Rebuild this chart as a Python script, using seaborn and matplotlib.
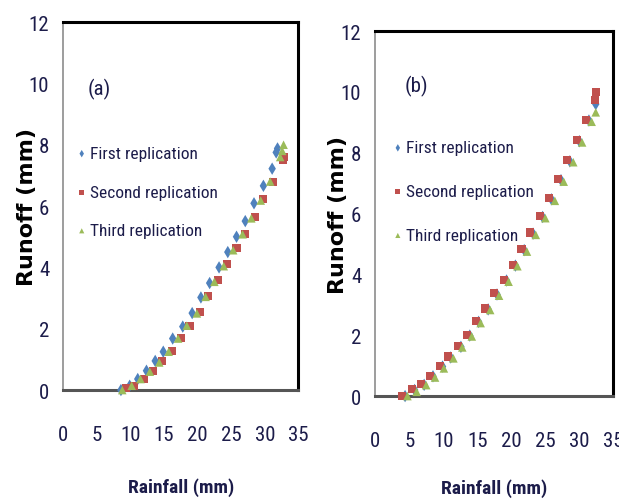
import matplotlib
matplotlib.use("Agg")
import matplotlib.pyplot as plt
import seaborn as sns

sns.set_style("white")
plt.rcParams["font.family"] = ["Roboto Condensed", "DejaVu Sans"]

# panel (a)
a_first_x = [8.6, 9.9, 11.1, 12.4, 13.7, 14.9, 16.3, 17.8, 19.2, 20.5, 21.8, 23.2,
             24.5, 25.8, 27.1, 28.4, 29.8, 31.1, 31.7, 31.9]
a_first_y = [0.0, 0.14, 0.36, 0.63, 0.95, 1.25, 1.68, 2.07, 2.51, 3.02, 3.49, 4.0,
             4.5, 5.0, 5.51, 6.09, 6.66, 7.22, 7.75, 7.88]
a_second_x = [9.4, 10.6, 12.0, 13.4, 14.7, 16.2, 17.5, 18.8, 20.3, 21.6, 23.0, 24.4,
              25.8, 27.1, 28.5, 29.8, 31.2, 32.7, 32.8]
a_second_y = [0.08, 0.14, 0.36, 0.63, 0.95, 1.26, 1.7, 2.1, 2.55, 3.07, 3.58, 4.1,
              4.62, 5.08, 5.64, 6.22, 6.79, 7.5, 7.6]
a_third_x = [8.8, 10.2, 11.5, 12.9, 14.3, 15.7, 17.1, 18.4, 19.9, 21.2, 22.5, 23.9,
             25.3, 26.7, 28.0, 29.4, 30.8, 32.3, 32.6, 32.8]
a_third_y = [0.0, 0.14, 0.36, 0.6, 0.9, 1.25, 1.68, 2.1, 2.5, 3.04, 3.53, 4.04,
             4.56, 5.08, 5.6, 6.18, 6.8, 7.6, 7.8, 8.0]

# panel (b)
b_first_x = [4.4, 5.8, 7.2, 8.5, 9.9, 11.1, 12.6, 13.9, 15.2, 16.6, 17.9, 19.3,
             20.6, 21.9, 23.2, 24.6, 25.9, 27.3, 28.6, 30.0, 31.4, 32.4]
b_first_y = [0.0, 0.2, 0.37, 0.65, 0.97, 1.27, 1.62, 1.99, 2.44, 2.85, 3.34, 3.8,
             4.29, 4.8, 5.34, 5.89, 6.47, 7.1, 7.72, 8.38, 9.06, 9.6]
b_second_x = [4.0, 5.4, 6.8, 8.1, 9.5, 10.7, 12.2, 13.5, 14.8, 16.2, 17.5, 18.9,
              20.2, 21.5, 22.8, 24.2, 25.5, 26.9, 28.2, 29.6, 31.0, 32.3, 32.4]
b_second_y = [0.0, 0.23, 0.39, 0.67, 1.0, 1.3, 1.65, 2.02, 2.48, 2.88, 3.38, 3.83,
              4.32, 4.84, 5.38, 5.93, 6.51, 7.14, 7.77, 8.42, 9.08, 9.74, 9.99]
b_third_x = [4.75, 6.1, 7.5, 8.8, 10.1, 11.5, 12.8, 14.2, 15.5, 16.9, 18.2, 19.6,
             20.9, 22.3, 23.6, 25.0, 26.4, 27.7, 29.1, 30.4, 31.8, 32.4]
b_third_y = [0.0, 0.14, 0.36, 0.61, 0.91, 1.24, 1.6, 1.96, 2.4, 2.83, 3.3, 3.76,
             4.27, 4.75, 5.3, 5.85, 6.42, 7.05, 7.69, 8.34, 9.02, 9.33]

series_names = ["First replication", "Second replication", "Third replication"]
colors = ["#4F81BD", "#C0504D", "#9BBB59"]
markers = ["d", "s", "^"]
sizes = [40, 34, 38]
text_color = "#1c1c4a"

fig = plt.figure(figsize=(6.19, 5.02), dpi=100)
ax_a = fig.add_axes([0.102, 0.221, 0.380, 0.733])
ax_b = fig.add_axes([0.606, 0.209, 0.385, 0.727])

# axes, tag, data, legend anchor, legend row spacing, tag position, ylabel x, xlabel y
panels = [
    (ax_a, "(a)", [(a_first_x, a_first_y), (a_second_x, a_second_y), (a_third_x, a_third_y)],
     (0.02, 0.682), 1.35, (0.105, 0.805), -0.112, -0.238),
    (ax_b, "(b)", [(b_first_x, b_first_y), (b_second_x, b_second_y), (b_third_x, b_third_y)],
     (0.037, 0.72), 1.65, (0.125, 0.835), -0.115, -0.226),
]

for ax, tag, data, leg_pos, spacing, tag_pos, ylab_x, xlab_y in panels:
    for (xs, ys), name, c, m, s in zip(data, series_names, colors, markers, sizes):
        sns.scatterplot(x=xs, y=ys, ax=ax, color=c, marker=m, s=s,
                        edgecolor="none", label=name, zorder=3, clip_on=False)
    ax.set_xlim(0, 35)
    ax.set_ylim(0, 12)
    ax.set_xticks(range(0, 36, 5))
    ax.set_yticks(range(0, 13, 2))
    ax.tick_params(axis="both", direction="out", length=5, width=1.2, color="#8c8c8c",
                   labelsize=15, labelcolor=text_color)
    ax.tick_params(axis="x", pad=20)
    ax.tick_params(axis="y", pad=5)
    for side in ["top", "right"]:
        ax.spines[side].set_color("black")
        ax.spines[side].set_linewidth(2.2)
    ax.spines["left"].set_color("#8c8c8c")
    ax.spines["left"].set_linewidth(1.2)
    ax.spines["bottom"].set_color("#555555")
    ax.spines["bottom"].set_linewidth(2.2)
    ax.set_ylabel("Runoff (mm)", fontsize=16, fontweight="heavy", family="DejaVu Sans",
                  color="black")
    ax.yaxis.set_label_coords(ylab_x, 0.5)
    ax.set_xlabel("Rainfall (mm)", fontsize=14, fontweight="semibold", color=text_color)
    ax.xaxis.set_label_coords(0.5, xlab_y)
    ax.text(*tag_pos, tag, transform=ax.transAxes, fontsize=15, color=text_color)
    leg = ax.legend(loc="upper left", bbox_to_anchor=leg_pos, frameon=False, fontsize=12.5,
                    handletextpad=0.05, labelspacing=spacing, borderaxespad=0, handlelength=0.8,
                    markerscale=0.6)
    for t in leg.get_texts():
        t.set_color(text_color)

fig.savefig("out.png", dpi=100)
